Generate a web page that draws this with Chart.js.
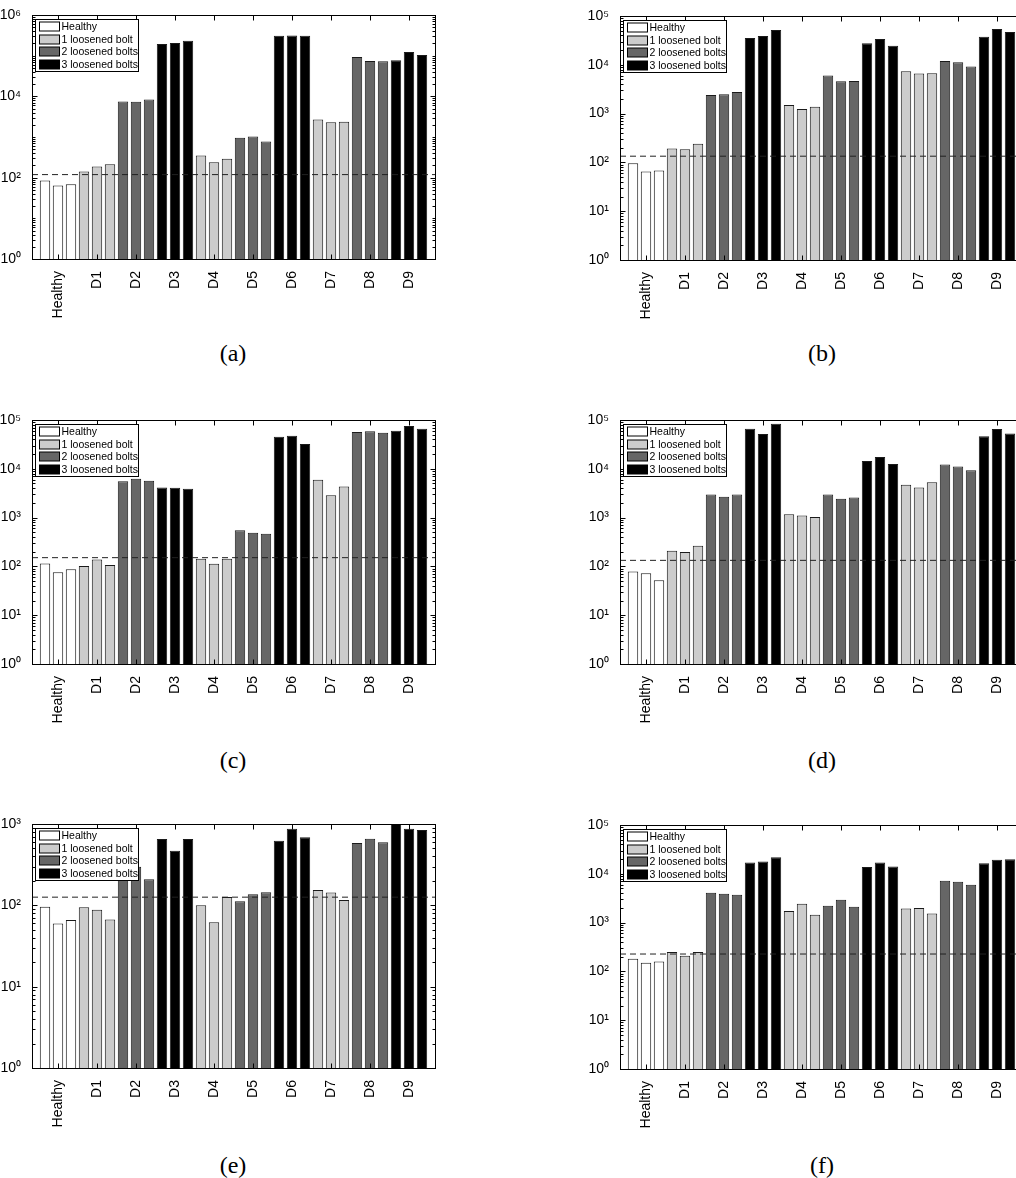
<!DOCTYPE html>
<html>
<head>
<meta charset="utf-8">
<script src="https://cdn.jsdelivr.net/npm/chart.js@4.4.1/dist/chart.umd.min.js"></script>
<style>
html, body { margin: 0; padding: 0; background: #fff; }
body { width: 1016px; height: 1178px; position: relative; overflow: hidden; }
.panel { position: absolute; width: 445px; height: 330px; }
.cap { position: absolute; width: 120px; text-align: center; font-family: "Liberation Serif", serif; font-size: 24px; line-height: 24px; color: #000; }
</style>
</head>
<body>

<div class="panel" style="left:0px;top:0px"><canvas id="ca" width="445" height="330"></canvas></div>
<div class="panel" style="left:588px;top:1px"><canvas id="cb" width="445" height="330"></canvas></div>
<div class="panel" style="left:0px;top:405px"><canvas id="cc" width="445" height="330"></canvas></div>
<div class="panel" style="left:588px;top:405px"><canvas id="cd" width="445" height="330"></canvas></div>
<div class="panel" style="left:0px;top:809px"><canvas id="ce" width="445" height="330"></canvas></div>
<div class="panel" style="left:588px;top:810px"><canvas id="cf" width="445" height="330"></canvas></div>

<div class="cap" style="left:173px;top:341px">(a)</div>
<div class="cap" style="left:762px;top:341px">(b)</div>
<div class="cap" style="left:173px;top:748px">(c)</div>
<div class="cap" style="left:762px;top:748px">(d)</div>
<div class="cap" style="left:173px;top:1153px">(e)</div>
<div class="cap" style="left:762px;top:1153px">(f)</div>

<script>
// categories: each group has 3 bars
const groups = ["Healthy", "D1", "D2", "D3", "D4", "D5", "D6", "D7", "D8", "D9"];
// number of loosened bolts for each group
const severity = [0, 1, 2, 3, 1, 2, 3, 1, 2, 3];
const legendLabels = ["Healthy", "1 loosened bolt", "2 loosened bolts", "3 loosened bolts"];
const fillColors = ["#ffffff", "#cccccc", "#666666", "#000000"];

// (a)
const valuesA = [85, 64, 69, 142, 188, 215, 7500, 7360, 8400, 194000, 205000, 234000,
  351, 240, 290, 955, 1030, 776, 310000, 312000, 311000, 2700, 2320, 2370,
  92700, 74000, 72500, 76700, 123000, 104000];
const thresholdA = 119;
const yTicksA = [1, 1e2, 1e4, 1e6];

// (b)
const valuesB = [96, 65, 68, 192, 186, 240, 2400, 2480, 2770, 35300, 38700, 51500,
  1500, 1240, 1385, 6010, 4600, 4670, 27800, 33600, 24500, 7380, 6610, 6710,
  11900, 11300, 9210, 37500, 54000, 46900];
const thresholdB = 134;
const yTicksB = [1, 10, 1e2, 1e3, 1e4, 1e5];

// (c)
const valuesC = [115, 76, 87, 102, 139, 107, 5580, 6240, 5670, 4130, 4070, 3890,
  144, 113, 144, 549, 492, 469, 45500, 47700, 32100, 5940, 2880, 4330,
  56700, 58500, 55000, 60400, 75300, 66400];
const thresholdC = 151;
const yTicksC = [1, 10, 1e2, 1e3, 1e4, 1e5];

// (d)
const valuesD = [79, 72, 52, 210, 197, 266, 2970, 2660, 2970, 66400, 51600, 84100,
  1170, 1100, 1030, 2970, 2420, 2580, 14400, 17400, 12500, 4690, 4130, 5320,
  12300, 11200, 9390, 46200, 65300, 53200];
const thresholdD = 133;
const yTicksD = [1, 10, 1e2, 1e3, 1e4, 1e5];

// (e)
const valuesE = [96, 60, 66, 95, 88, 67, 300, 298, 210, 654, 470, 654,
  100, 62, 127, 112, 137, 145, 623, 877, 685, 154, 144, 116,
  584, 660, 595, 1100, 877, 844];
const thresholdE = 126;
const yTicksE = [1, 10, 1e2, 1e3];

// (f)
const valuesF = [182, 150, 160, 249, 210, 249, 4100, 3910, 3730, 17000, 17800, 21900,
  1720, 2430, 1440, 2210, 2940, 2110, 13800, 17000, 14100, 1950, 1980, 1540,
  7240, 6900, 5990, 16500, 19300, 19900];
const thresholdF = 227;
const yTicksF = [1, 10, 1e2, 1e3, 1e4, 1e5];

const sup = ["\u2070", "\u00b9", "\u00b2", "\u00b3", "\u2074", "\u2075", "\u2076"];
Chart.defaults.font.family = "'Liberation Sans', Arial, sans-serif";
Chart.defaults.color = "#000";

// one empty slot at each end so bars sit at 1..30 like the matlab plot
const xLabels = [""];
groups.forEach(g => xLabels.push("", g, ""));
xLabels.push("");

// box, inward ticks and legend drawn on top of the bars
const framePlugin = {
  id: "frame",
  afterDatasetsDraw(chart) {
    const ctx = chart.ctx;
    const a = chart.chartArea;
    const xs = chart.scales.x, ys = chart.scales.y;
    const L = Math.round(a.left) + 0.5, R = Math.round(a.right) + 0.5;
    const T = Math.round(a.top) + 0.5, B = Math.round(a.bottom) + 0.5;
    ctx.save();
    ctx.strokeStyle = "#000";
    ctx.lineWidth = 1;
    ctx.beginPath();
    // y ticks, major and minor
    const majors = ys.ticks.map(t => t.value);
    const topExp = Math.round(Math.log10(ys.max));
    for (let k = 0; k <= topExp; k++) {
      for (let m = 1; m <= 9; m++) {
        const v = m * Math.pow(10, k);
        if (v > ys.max) break;
        const len = majors.includes(v) ? 5 : 3;
        const py = Math.round(ys.getPixelForValue(v)) + 0.5;
        ctx.moveTo(L, py); ctx.lineTo(L + len, py);
        ctx.moveTo(R, py); ctx.lineTo(R - len, py);
      }
    }
    // x ticks
    xs.ticks.forEach(t => {
      const px = Math.round(xs.getPixelForValue(t.value)) + 0.5;
      ctx.moveTo(px, B); ctx.lineTo(px, B - 5);
      ctx.moveTo(px, T); ctx.lineTo(px, T + 5);
    });
    ctx.stroke();
    ctx.strokeRect(L, T, R - L, B - T);

    // legend
    const lx = L + 3, ly = T + 4, lw = 103, lh = 52;
    ctx.fillStyle = "#fff";
    ctx.fillRect(lx, ly, lw, lh);
    ctx.strokeRect(lx, ly, lw, lh);
    ctx.font = "10.5px 'Liberation Sans', Arial, sans-serif";
    ctx.textBaseline = "middle";
    legendLabels.forEach((name, s) => {
      const sy = Math.round(ly + 2.5 + s * 12.6);
      ctx.fillStyle = fillColors[s];
      ctx.fillRect(lx + 4, sy, 20, 9);
      ctx.strokeRect(lx + 4, sy, 20, 9);
      ctx.fillStyle = "#000";
      ctx.fillText(name, lx + 26, sy + 5);
    });
    ctx.restore();
  }
};

function drawPanel(id, values, threshold, yTicks) {
  const bars = legendLabels.map((name, s) => ({
    type: "bar",
    label: name,
    data: [null].concat(values.map((v, i) => severity[Math.floor(i / 3)] === s ? v : null), [null]),
    backgroundColor: fillColors[s],
    borderColor: "#1a1a1a",
    borderWidth: 1,
    grouped: false,
    barPercentage: 0.8,
    categoryPercentage: 1
  }));
  const line = {
    type: "line",
    label: "threshold",
    data: xLabels.map(() => threshold),
    borderColor: "#222",
    borderWidth: 1,
    borderDash: [6, 4],
    pointRadius: 0,
    fill: false,
    order: -1
  };

  new Chart(document.getElementById(id), {
    type: "bar",
    data: { labels: xLabels, datasets: [line].concat(bars) },
    plugins: [framePlugin],
    options: {
      responsive: false,
      animation: false,
      devicePixelRatio: 1,
      layout: { padding: { left: 0, top: 15, right: 10, bottom: 0 } },
      plugins: { legend: { display: false }, tooltip: { enabled: false } },
      scales: {
        x: {
          type: "category",
          offset: false,
          grid: { display: false },
          border: { display: false },
          ticks: { autoSkip: false, minRotation: 90, maxRotation: 90, padding: 4, font: { size: 14 } },
          afterBuildTicks: ax => { ax.ticks = ax.ticks.filter(t => xLabels[t.value] !== ""); },
          afterFit: ax => { ax.height = 71; }
        },
        y: {
          type: "logarithmic",
          min: 1,
          max: yTicks[yTicks.length - 1],
          grid: { display: false },
          border: { display: false },
          ticks: {
            padding: 3,
            font: { size: 14 },
            callback: v => "10" + sup[Math.round(Math.log10(v))]
          },
          afterBuildTicks: ax => { ax.ticks = yTicks.map(v => ({ value: v })); },
          afterFit: ax => { ax.width = 32; }
        }
      }
    }
  });
}

drawPanel("ca", valuesA, thresholdA, yTicksA);
drawPanel("cb", valuesB, thresholdB, yTicksB);
drawPanel("cc", valuesC, thresholdC, yTicksC);
drawPanel("cd", valuesD, thresholdD, yTicksD);
drawPanel("ce", valuesE, thresholdE, yTicksE);
drawPanel("cf", valuesF, thresholdF, yTicksF);
</script>
</body>
</html>
